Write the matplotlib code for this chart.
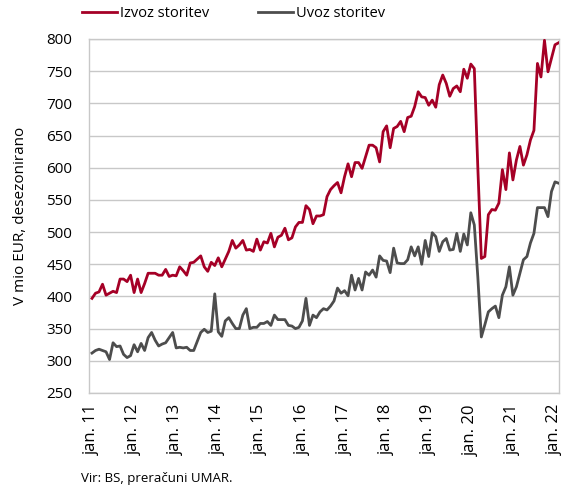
import matplotlib
matplotlib.use("Agg")
import matplotlib.pyplot as plt
import numpy as np

# monthly data, jan 2011 - feb 2022 (mio EUR, seasonally adjusted)
izvoz = [
    397, 405, 407, 419, 402, 405, 408, 406, 427, 427, 423, 433,
    406, 427, 406, 420, 436, 436, 436, 433, 433, 442, 431, 433,
    432, 446, 440, 433, 452, 453, 458, 463, 446, 439, 453, 448,
    460, 446, 458, 470, 487, 475, 480, 487, 472, 473, 470, 489,
    472, 485, 483, 498, 477, 492, 495, 506, 488, 491, 508, 515,
    515, 541, 535, 513, 525, 525, 527, 555, 566, 572, 577, 561,
    586, 606, 586, 608, 608, 599, 617, 635, 635, 631, 609, 656,
    665, 631, 661, 664, 672, 656, 678, 680, 695, 718, 710, 709,
    697, 705, 694, 729, 744, 731, 711, 723, 727, 718, 753, 739,
    761, 754, 600, 459, 462, 527, 535, 534, 545, 597, 566, 623,
    581, 612, 633, 604, 620, 643, 658, 762, 741, 798, 749, 770,
    791, 794,
]
uvoz = [
    312, 316, 318, 316, 314, 302, 328, 322, 323, 310, 305, 308,
    325, 314, 327, 316, 336, 344, 332, 323, 326, 328, 336, 344,
    320, 321, 320, 321, 316, 316, 330, 344, 349, 344, 346, 404,
    345, 338, 362, 367, 358, 350, 350, 371, 381, 350, 352, 352,
    358, 358, 361, 355, 371, 364, 364, 364, 355, 354, 350, 352,
    362, 397, 355, 371, 367, 376, 381, 379, 385, 393, 413, 405,
    409, 401, 433, 410, 428, 410, 438, 433, 441, 430, 463, 456,
    455, 437, 475, 452, 451, 451, 457, 477, 463, 477, 450, 487,
    462, 499, 493, 470, 485, 490, 472, 473, 498, 470, 497, 480,
    530, 511, 430, 337, 356, 376, 381, 385, 367, 402, 415, 446,
    402, 415, 436, 457, 462, 483, 498, 538, 538, 538, 524, 563,
    578, 576,
]
years = [11, 12, 13, 14, 15, 16, 17, 18, 19, 20, 21, 22]
tick_labels = [f"jan. {y}" for y in years]

plt.rcParams["font.family"] = ["Open Sans", "DejaVu Sans"]

RED = "#A50026"
GREY = "#4D4D4D"
GRID = "#C8C8C8"

fig = plt.figure(figsize=(5.62, 4.86), dpi=100)
ax = fig.add_axes([0.1584, 0.1914, 0.8363, 0.7284])

x = np.arange(len(izvoz))
ax.plot(x, izvoz, color=RED, lw=2.0, label="Izvoz storitev", zorder=3)
ax.plot(x, uvoz, color=GREY, lw=2.0, label="Uvoz storitev", zorder=3)

ax.set_xlim(-0.85, len(izvoz) - 0.85)
ax.set_ylim(250, 800)
ax.set_yticks(range(250, 801, 50))
ax.set_xticks([12 * i for i in range(len(years))])
ax.set_xticklabels(tick_labels, rotation=90, fontsize=12)
ax.tick_params(axis="y", labelsize=11, length=0, pad=12)
ax.tick_params(axis="x", length=0, pad=8)
ax.grid(axis="y", color=GRID, lw=1.0)
ax.set_axisbelow(True)
for s in ax.spines.values():
    s.set_color(GRID)
    s.set_linewidth(1.0)

ax.set_ylabel("V mio EUR, desezonirano", fontsize=11, labelpad=13)

fig.legend(loc="upper left", bbox_to_anchor=(0.122, 1.015), ncol=2,
           frameon=False, fontsize=10.5, handlelength=2.4,
           handletextpad=0.2, columnspacing=3.4)

fig.text(0.144, 0.008, "Vir: BS, preračuni UMAR.", fontsize=9.5)

fig.savefig("out.png", dpi=100)
